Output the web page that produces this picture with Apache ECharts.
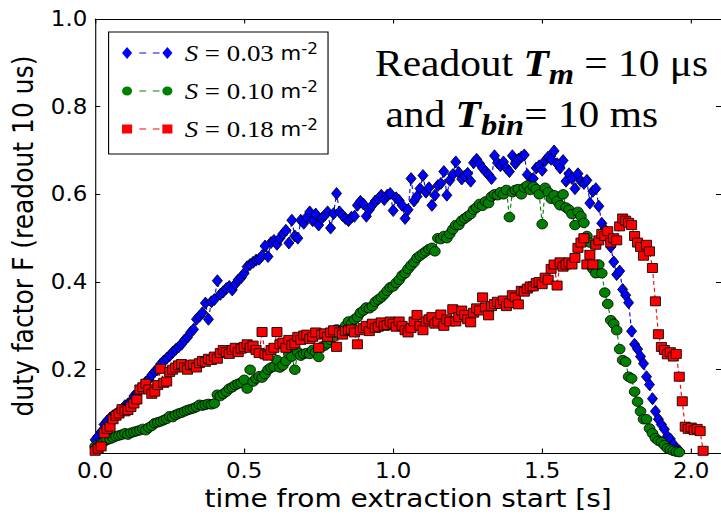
<!DOCTYPE html>
<html>
<head>
<meta charset="utf-8">
<script src="https://cdn.jsdelivr.net/npm/echarts@6/dist/echarts.min.js"></script>
<style>
  html, body { margin: 0; padding: 0; background: #fff; overflow: hidden; }
  #wrap { width: 721px; height: 516px; overflow: hidden; }
  /* the figure is laid out in a narrower frame and widened to the page */
  #chart { width: 644px; height: 516px; transform: scaleX(1.11957); transform-origin: 0 0; }
</style>
</head>
<body>
<div id="wrap"><div id="chart"></div></div>
<script>
// time bin of the readout histogram [s]
const BIN_WIDTH_S = 0.01;

const xTicks = [0.0, 0.5, 1.0, 1.5, 2.0];
const yTicks = [0.2, 0.4, 0.6, 0.8, 1.0];

// sextupole strengths shown in the legend [m^-2]
const strengths = ['0.03', '0.10', '0.18'];

// duty factor F per 10 ms bin, S = 0.03 m^-2
const dutyS003 = [
  0.040, 0.048, 0.058, 0.075, 0.083, 0.090, 0.095, 0.098, 0.106, 0.110,
  0.118, 0.122, 0.128, 0.140, 0.145, 0.152, 0.160, 0.172, 0.178, 0.188,
  0.196, 0.200, 0.213, 0.220, 0.226, 0.232, 0.240, 0.246, 0.252, 0.258,
  0.268, 0.274, 0.285, 0.292, 0.315, 0.322, 0.330, 0.352, 0.315, 0.355,
  0.360, 0.403, 0.372, 0.378, 0.385, 0.390, 0.382, 0.395, 0.405, 0.410,
  0.420, 0.435, 0.440, 0.445, 0.450, 0.452, 0.460, 0.482, 0.458, 0.490,
  0.495, 0.486, 0.500, 0.510, 0.518, 0.489, 0.541, 0.505, 0.500, 0.541,
  0.534, 0.548, 0.560, 0.540, 0.555, 0.530, 0.545, 0.552, 0.560, 0.523,
  0.556, 0.602, 0.560, 0.552, 0.545, 0.540, 0.548, 0.550, 0.575, 0.584,
  0.578, 0.550, 0.565, 0.575, 0.585, 0.590, 0.598, 0.588, 0.598, 0.602,
  0.563, 0.592, 0.586, 0.575, 0.545, 0.565, 0.636, 0.585, 0.595, 0.613,
  0.643, 0.605, 0.615, 0.575, 0.598, 0.620, 0.625, 0.652, 0.598, 0.632,
  0.645, 0.674, 0.650, 0.635, 0.642, 0.648, 0.630, 0.672, 0.680, 0.670,
  0.660, 0.652, 0.645, 0.636, 0.688, 0.672, 0.665, 0.674, 0.660, 0.652,
  0.688, 0.670, 0.680, 0.685, 0.690, 0.645, 0.625, 0.636, 0.660, 0.665,
  0.655, 0.677, 0.685, 0.680, 0.699, 0.670, 0.660, 0.677, 0.630, 0.647,
  0.636, 0.613, 0.647, 0.630, 0.625, 0.632, 0.580, 0.607, 0.613, 0.573,
  0.534, 0.520, 0.500, 0.480, 0.446, 0.417, 0.425, 0.383, 0.370, 0.353,
  0.288, 0.258, 0.247, 0.230, 0.214, 0.184, 0.166, 0.134, 0.105, 0.087,
  0.075, 0.064, 0.048, 0.042, 0.030, 0.020, 0.015
];

// duty factor F per 10 ms bin, S = 0.10 m^-2
const dutyS010 = [
  0.025, 0.028, 0.032, 0.036, 0.040, 0.042, 0.045, 0.048, 0.050, 0.052,
  0.055, 0.052, 0.056, 0.058, 0.060, 0.062, 0.065, 0.062, 0.068, 0.072,
  0.078, 0.080, 0.082, 0.085, 0.088, 0.094, 0.092, 0.097, 0.100, 0.102,
  0.105, 0.108, 0.110, 0.112, 0.115, 0.120, 0.118, 0.120, 0.122, 0.121,
  0.123, 0.143, 0.140, 0.145, 0.150, 0.157, 0.160, 0.165, 0.168, 0.170,
  0.177, 0.157, 0.200, 0.173, 0.180, 0.185, 0.182, 0.190, 0.200, 0.205,
  0.207, 0.222, 0.205, 0.210, 0.220, 0.236, 0.230, 0.200, 0.240, 0.232,
  0.236, 0.238, 0.236, 0.245, 0.240, 0.229, 0.252, 0.255, 0.260, 0.268,
  0.275, 0.292, 0.285, 0.290, 0.300, 0.310, 0.305, 0.315, 0.320, 0.330,
  0.335, 0.342, 0.340, 0.345, 0.355, 0.360, 0.365, 0.372, 0.380, 0.388,
  0.390, 0.398, 0.405, 0.415, 0.420, 0.430, 0.438, 0.445, 0.455, 0.460,
  0.465, 0.470, 0.475, 0.478, 0.470, 0.500, 0.498, 0.505, 0.500, 0.510,
  0.520, 0.530, 0.530, 0.540, 0.545, 0.550, 0.555, 0.565, 0.570, 0.578,
  0.574, 0.584, 0.580, 0.595, 0.600, 0.598, 0.605, 0.600, 0.610, 0.548,
  0.605, 0.610, 0.612, 0.600, 0.615, 0.620, 0.610, 0.618, 0.612, 0.600,
  0.532, 0.615, 0.605, 0.590, 0.598, 0.585, 0.575, 0.600, 0.570, 0.565,
  0.555, 0.530, 0.560, 0.550, 0.535, 0.505, 0.490, 0.430, 0.420, 0.440,
  0.420, 0.376, 0.350, 0.313, 0.305, 0.290, 0.247, 0.222, 0.218, 0.184,
  0.180, 0.150, 0.127, 0.105, 0.087, 0.087, 0.066, 0.055, 0.044, 0.038,
  0.035, 0.028, 0.021, 0.018, 0.015, 0.013, 0.012
];

// duty factor F per 10 ms bin, S = 0.18 m^-2
const dutyS018 = [
  0.015, 0.020, 0.025, 0.055, 0.065, 0.070, 0.087, 0.095, 0.100, 0.110,
  0.105, 0.108, 0.115, 0.123, 0.132, 0.155, 0.160, 0.168, 0.155, 0.145,
  0.150, 0.165, 0.202, 0.170, 0.173, 0.195, 0.200, 0.205, 0.210, 0.213,
  0.205, 0.200, 0.210, 0.212, 0.205, 0.215, 0.220, 0.218, 0.225, 0.222,
  0.230, 0.225, 0.238, 0.245, 0.240, 0.236, 0.245, 0.250, 0.240, 0.248,
  0.252, 0.258, 0.250, 0.255, 0.245, 0.238, 0.286, 0.235, 0.232, 0.245,
  0.250, 0.286, 0.258, 0.262, 0.250, 0.268, 0.256, 0.260, 0.275, 0.268,
  0.278, 0.280, 0.270, 0.275, 0.285, 0.250, 0.280, 0.283, 0.275, 0.285,
  0.290, 0.252, 0.285, 0.280, 0.288, 0.290, 0.292, 0.285, 0.258, 0.290,
  0.295, 0.300, 0.288, 0.305, 0.295, 0.298, 0.308, 0.300, 0.302, 0.310,
  0.305, 0.298, 0.310, 0.300, 0.290, 0.285, 0.295, 0.310, 0.325, 0.300,
  0.290, 0.310, 0.315, 0.320, 0.305, 0.310, 0.326, 0.300, 0.315, 0.310,
  0.338, 0.310, 0.320, 0.335, 0.325, 0.315, 0.308, 0.330, 0.340, 0.335,
  0.365, 0.342, 0.324, 0.345, 0.350, 0.355, 0.350, 0.358, 0.345, 0.352,
  0.370, 0.365, 0.349, 0.380, 0.378, 0.385, 0.390, 0.390, 0.398, 0.400,
  0.395, 0.410, 0.405, 0.430, 0.440, 0.392, 0.445, 0.435, 0.440, 0.445,
  0.440, 0.455, 0.478, 0.490, 0.500, 0.440, 0.462, 0.440, 0.485, 0.495,
  0.510, 0.505, 0.516, 0.490, 0.500, 0.495, 0.527, 0.545, 0.540, 0.535,
  0.530, 0.505, 0.490, 0.480, 0.460, 0.485, 0.470, 0.432, 0.356, 0.281,
  0.252, 0.245, 0.235, 0.240, 0.230, 0.236, 0.184, 0.128, 0.070, 0.065,
  0.068, 0.062, 0.065, 0.060, 0.015
];

const SERIF = '"Liberation Serif", "DejaVu Serif", serif';
const SANS = '"DejaVu Sans", "Bitstream Vera Sans", sans-serif';

// pair each bin value with the start time of its bin
const toPoints = vals => vals.map((v, i) => [Math.round(i * BIN_WIDTH_S * 100) / 100, v]);

const dash = 'M15.5,{y0}L21.5,{y0}L21.5,{y1}L15.5,{y1}Z M27.5,{y0}L33.5,{y0}L33.5,{y1}L27.5,{y1}Z';
const dashAt = (y0, y1) => dash.replace(/\{y0\}/g, y0).replace(/\{y1\}/g, y1);

const seriesStyle = [
  { color: '#0000ff', symbol: 'diamond', size: [9, 12],
    icon: 'path://M4.5,0L9,6L4.5,12L0,6Z ' + dashAt(5.5, 6.5) + ' M40.5,0L45,6L40.5,12L36,6Z' },
  { color: '#008000', symbol: 'circle', size: 9.5,
    icon: 'path://M0,4.5A4.5,4.5 0 1,0 9,4.5A4.5,4.5 0 1,0 0,4.5Z ' + dashAt(4, 5) + ' M36,4.5A4.5,4.5 0 1,0 45,4.5A4.5,4.5 0 1,0 36,4.5Z' },
  { color: '#ff0000', symbol: 'rect', size: 9,
    icon: 'path://M0,0L9,0L9,9L0,9Z ' + dashAt(4, 5) + ' M36,0L45,0L45,9L36,9Z' }
];

const seriesValues = [dutyS003, dutyS010, dutyS018];
const seriesNames = strengths.map(s => 'S = ' + s + ' m-2');

const frameLine = { show: true, onZero: false, lineStyle: { color: '#000', width: 1 } };
const innerTick = (vals) => ({ show: true, inside: true, length: 4.5, customValues: vals,
  lineStyle: { color: '#000', width: 1 } });

const chart = echarts.init(document.getElementById('chart'), null,
  { renderer: 'svg', width: 644, height: 516 });

chart.setOption({
  animation: false,
  backgroundColor: '#fff',
  grid: { left: 85, top: 19, width: 560, height: 438, containLabel: false },
  xAxis: [
    {
      type: 'value', min: 0, max: 2.1, position: 'bottom',
      name: 'time from extraction start [s]', nameLocation: 'middle', nameGap: 33,
      nameTextStyle: { fontFamily: SANS, fontSize: 25, color: '#000' },
      axisLine: frameLine, axisTick: innerTick(xTicks),
      axisLabel: { customValues: xTicks, formatter: v => v.toFixed(1), margin: 7,
        fontFamily: SANS, fontSize: 20.5, color: '#000' },
      splitLine: { show: false }
    },
    {
      type: 'value', min: 0, max: 2.1, position: 'top',
      axisLine: frameLine, axisTick: innerTick(xTicks),
      axisLabel: { show: false }, splitLine: { show: false }
    }
  ],
  yAxis: [
    {
      type: 'value', min: 0.01, max: 1.0, position: 'left',
      name: 'duty factor F (readout 10 us)', nameLocation: 'middle', nameGap: 52, nameRotate: 90,
      nameTextStyle: { fontFamily: SANS, fontSize: 25, color: '#000' },
      axisLine: frameLine, axisTick: innerTick(yTicks),
      axisLabel: { customValues: yTicks, formatter: v => v.toFixed(1), margin: 7,
        fontFamily: SANS, fontSize: 20.5, color: '#000' },
      splitLine: { show: false }
    },
    {
      type: 'value', min: 0.01, max: 1.0, position: 'right',
      axisLine: frameLine, axisTick: innerTick(yTicks),
      axisLabel: { show: false }, splitLine: { show: false }
    }
  ],
  legend: {
    orient: 'vertical', left: 97, top: 32,
    itemWidth: 45, itemHeight: 12, itemGap: 10,
    padding: [7, 9, 11, 12],
    borderColor: '#000', borderWidth: 1, borderRadius: 0, backgroundColor: '#fff',
    symbolKeepAspect: true,
    data: seriesNames.map((n, k) => ({ name: n, icon: seriesStyle[k].icon })),
    itemStyle: { borderWidth: 0 },
    formatter: name => {
      const k = seriesNames.indexOf(name);
      return '{i|S}{r| = ' + strengths[k] + ' }{u|m}{sup|-2}';
    },
    textStyle: {
      color: '#000', padding: [0, 0, 0, 6], lineHeight: 28,
      rich: {
        i: { fontFamily: SERIF, fontStyle: 'italic', fontSize: 24, color: '#000', lineHeight: 28 },
        r: { fontFamily: SERIF, fontSize: 24, color: '#000', lineHeight: 28 },
        u: { fontFamily: SANS, fontSize: 19, color: '#000', lineHeight: 28 },
        sup: { fontFamily: SANS, fontSize: 15, color: '#000', verticalAlign: 'top', lineHeight: 15, padding: [2, 0, 0, 0] }
      }
    }
  },
  graphic: [{
    type: 'text', left: 335, top: 45, z: 100,
    style: {
      text: '{n|Readout }{t|T}{s|m}{n| = 10 μs}\n{n| and }{t|T}{s|bin}{n|= 10 ms}',
      rich: {
        n: { fontFamily: SERIF, fontSize: 37, fill: '#000', lineHeight: 51 },
        t: { fontFamily: SERIF, fontSize: 37, fontStyle: 'italic', fontWeight: 'bold', fill: '#000', lineHeight: 51 },
        s: { fontFamily: SERIF, fontSize: 29, fontStyle: 'italic', fontWeight: 'bold', fill: '#000',
             verticalAlign: 'bottom', lineHeight: 22 }
      }
    }
  }],
  series: seriesValues.map((vals, k) => ({
    type: 'line',
    name: seriesNames[k],
    data: toPoints(vals),
    xAxisIndex: 0, yAxisIndex: 0,
    symbol: seriesStyle[k].symbol,
    symbolSize: seriesStyle[k].size,
    showSymbol: true, showAllSymbol: true,
    itemStyle: { color: seriesStyle[k].color, borderColor: '#000', borderWidth: 0.8 },
    lineStyle: { color: seriesStyle[k].color, width: 1, type: [4, 3] },
    emphasis: { disabled: true },
    z: 2 + k
  }))
});
</script>
</body>
</html>
